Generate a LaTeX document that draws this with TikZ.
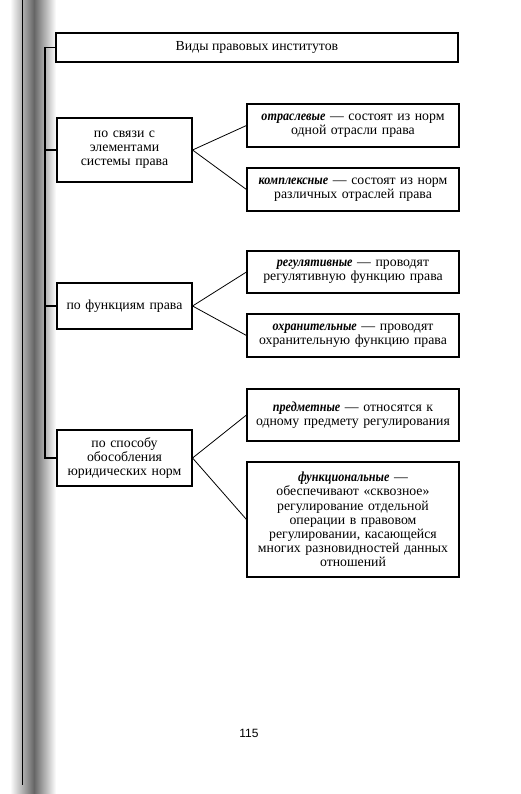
\documentclass[tikz,border=0pt]{standalone}
\usepackage{fontspec}
\setmainfont{Liberation Serif}
\newfontfamily\pagenumfont{Liberation Sans}
\newfontface\bifont{Liberation Serif Bold Italic}[FakeStretch=0.88]
\newcommand{\bi}[1]{{\bifont #1}}
\begin{document}
\begin{tikzpicture}[x=1pt,y=-1pt,
  txt/.style={font=\fontsize{13.8}{14.2}\selectfont},
  box/.style={draw, line width=1.1pt, rectangle, align=center, inner sep=0pt, txt},
  leftbox/.style={box, minimum width=135pt, text width=130pt},
  rightbox/.style={box, minimum width=212pt, text width=208pt},
  link/.style={line width=0.8pt},
  spine/.style={line width=1.1pt}]
\useasboundingbox (0,0) rectangle (520,794);
% scanned spine shadow
\shade[left color=white, right color=black!60] (10,0) rectangle (34,794);
\shade[left color=black!60, right color=white] (34,0) rectangle (56,794);
\draw[line width=1pt] (22,0) -- (22,785);
% title
\node[draw, line width=2pt, minimum width=402pt, minimum height=29pt, inner sep=0pt, txt] (title) at (257,47.5) {Виды правовых институтов};
% left boxes
\node[leftbox, minimum height=64pt] (b1) at (124.5,150) {по связи с\\элементами\\системы права};
\node[leftbox, minimum height=46pt] (b2) at (124.5,306) {по функциям права};
\node[leftbox, minimum height=56pt] (b3) at (124.5,458) {по способу\\обособления\\юридических норм};
% right boxes
\node[rightbox, minimum height=43pt] (r1a) at (353,125.5) {\bi{отраслевые} — состоят из норм\\одной отрасли права};
\node[rightbox, minimum height=43pt] (r1b) at (353,189.5) {\bi{комплексные} — состоят из норм\\различных отраслей права};
\node[rightbox, minimum height=42pt] (r2a) at (353,272) {\bi{регулятивные} — проводят\\регулятивную функцию права};
\node[rightbox, minimum height=43pt] (r2b) at (353,335.5) {\bi{охранительные} — проводят\\охранительную функцию права};
\node[rightbox, minimum height=52pt] (r3a) at (353,415) {\bi{предметные} — относятся к\\одному предмету регулирования};
\node[rightbox, minimum height=115pt] (r3b) at (353,519.5) {\bi{функциональные} —\\обеспечивают «сквозное»\\регулирование отдельной\\операции в правовом\\регулировании, касающейся\\многих разновидностей данных\\отношений};
% connectors
\draw[link] (b1.east) -- (r1a.west);
\draw[link] (b1.east) -- (r1b.west);
\draw[link] (b2.east) -- (r2a.west);
\draw[link] (b2.east) -- (r2b.west);
\draw[link] (b3.east) -- (r3a.west);
\draw[link] (b3.east) -- (r3b.west);
% spine
\coordinate (st) at (45,47.5);
\coordinate (sb) at (45,458);
\draw[spine] (title.west) -- (st) -- (sb) -- (b3.west);
\draw[spine] (b1.west) -- (b1.west -| st);
\draw[spine] (b2.west) -- (b2.west -| st);
% page number
\node[font=\pagenumfont\fontsize{12}{14}\selectfont] (pn) at (249,733) {115};
\end{tikzpicture}
\end{document}
